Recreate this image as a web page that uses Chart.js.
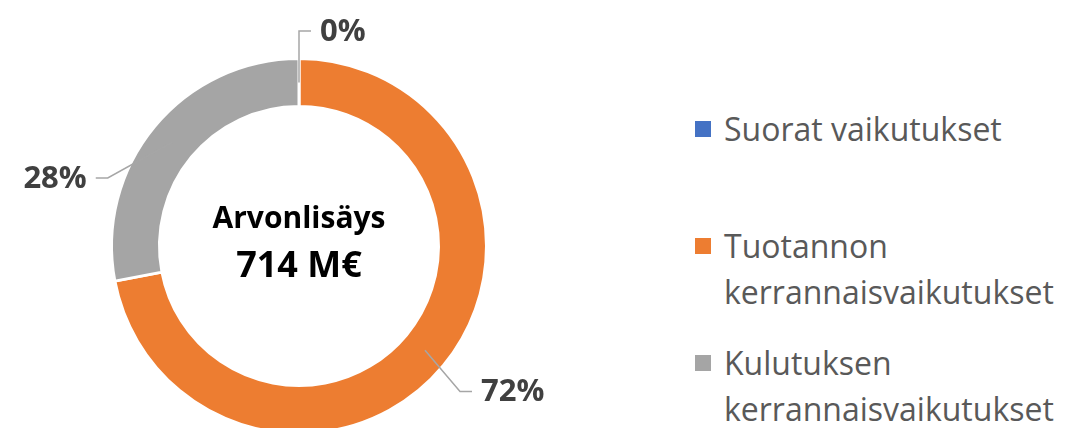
<!DOCTYPE html>
<html>
<head>
<meta charset="utf-8">
<script src="https://cdn.jsdelivr.net/npm/chart.js@4/dist/chart.umd.min.js"></script>
<style>
    html, body { margin: 0; padding: 0; width: 1092px; height: 428px; overflow: hidden; background: #fff; }
    #chart-wrap { position: absolute; left: 0; top: 0; width: 600px; height: 500px; }
    #legend { position: absolute; left: 695px; top: 106px; font-family: "Open Sans", sans-serif; font-size: 32px; color: #595959; }
    .legend-item { position: relative; height: 117px; padding-left: 29px; line-height: 46px; white-space: nowrap; }
    .legend-box { position: absolute; left: 0; top: 15px; width: 16px; height: 16px; }
</style>
</head>
<body>
<div id="chart-wrap"><canvas id="impact-chart" width="600" height="500"></canvas></div>
<div id="legend"></div>
<script>
// shares of value added (%)
var categories = ['Suorat vaikutukset', 'Tuotannon kerrannaisvaikutukset', 'Kulutuksen kerrannaisvaikutukset'];
var legendLines = [['Suorat vaikutukset'], ['Tuotannon', 'kerrannaisvaikutukset'], ['Kulutuksen', 'kerrannaisvaikutukset']];
var shares = [0, 72, 28];
var sliceColors = ['#4472C4', '#ED7D31', '#A5A5A5'];
var centerLines = ['Arvonlisäys', '714 M€'];

// label leader tweaks (degrees off the slice middle, px beyond the ring)
var labelNudge = [0, 2.5, -20];
var labelReach = [29, 31, 17];

var setLegend = function () {
    var html = '';
    for (var i = 0; i < categories.length; ++i) {
        html += '<div class="legend-item">' +
            '<span class="legend-box" style="background:' + sliceColors[i] + '"></span>' +
            legendLines[i].join('<br>') +
        '</div>';
    }
    document.getElementById('legend').innerHTML = html;
};

var leaderLabels = {
    id: 'leaderLabels',
    afterDatasetsDraw: function (chart) {
        var ctx = chart.ctx;
        var arcs = chart.getDatasetMeta(0).data;
        var total = shares.reduce(function (a, b) { return a + b; }, 0);
        ctx.save();
        for (var i = 0; i < arcs.length; ++i) {
            var p = arcs[i].getProps(['x', 'y', 'startAngle', 'endAngle', 'innerRadius', 'outerRadius'], true);
            var mid = (p.startAngle + p.endAngle) / 2;
            var a = mid + labelNudge[i] * Math.PI / 180;
            var rMid = (p.innerRadius + p.outerRadius) / 2;
            var sx = p.x + Math.cos(mid) * rMid;
            var sy = p.y + Math.sin(mid) * rMid;
            var rEl = p.outerRadius - 1.5 + labelReach[i];
            var ex = p.x + Math.cos(a) * rEl;
            var ey = p.y + Math.sin(a) * rEl;
            var right = Math.cos(a) >= -0.001;
            var hx = ex + (right ? 12 : -12);

            ctx.strokeStyle = '#A6A6A6';
            ctx.lineWidth = 1.5;
            ctx.beginPath();
            ctx.moveTo(sx, sy);
            ctx.lineTo(ex, ey);
            ctx.lineTo(hx, ey);
            ctx.stroke();

            ctx.fillStyle = '#404040';
            ctx.font = 'bold 31px "Open Sans"';
            ctx.textBaseline = 'middle';
            ctx.textAlign = right ? 'left' : 'right';
            ctx.fillText(Math.round(shares[i] / total * 100) + '%', hx + (right ? 9 : -9), ey + 1);
        }
        ctx.restore();
    }
};

var centerText = {
    id: 'centerText',
    afterDatasetsDraw: function (chart) {
        var ctx = chart.ctx;
        var p = chart.getDatasetMeta(0).data[0].getProps(['x', 'y'], true);
        ctx.save();
        ctx.fillStyle = '#000';
        ctx.textAlign = 'center';
        ctx.textBaseline = 'middle';
        ctx.font = 'bold 30px "Open Sans"';
        ctx.fillText(centerLines[0], p.x, p.y - 27);
        ctx.font = 'bold 36px "Open Sans"';
        ctx.fillText(centerLines[1], p.x, p.y + 21);
        ctx.restore();
    }
};

var addChart = function () {
    var ctx = document.getElementById('impact-chart');
    var myChart = new Chart(ctx, {
        type: 'doughnut',
        data: {
            labels: categories,
            datasets: [{
                data: shares,
                backgroundColor: sliceColors,
                borderColor: '#fff',
                borderWidth: 3
            }]
        },
        options: {
            responsive: false,
            animation: false,
            devicePixelRatio: 1,
            cutout: '74.4%',
            layout: { padding: { left: 110, right: 112, top: 57, bottom: 65 } },
            plugins: {
                legend: { display: false },
                tooltip: { enabled: false }
            }
        },
        plugins: [leaderLabels, centerText]
    });
};

setLegend();
document.fonts.load('bold 30px "Open Sans"').then(addChart, addChart);
</script>
</body>
</html>
